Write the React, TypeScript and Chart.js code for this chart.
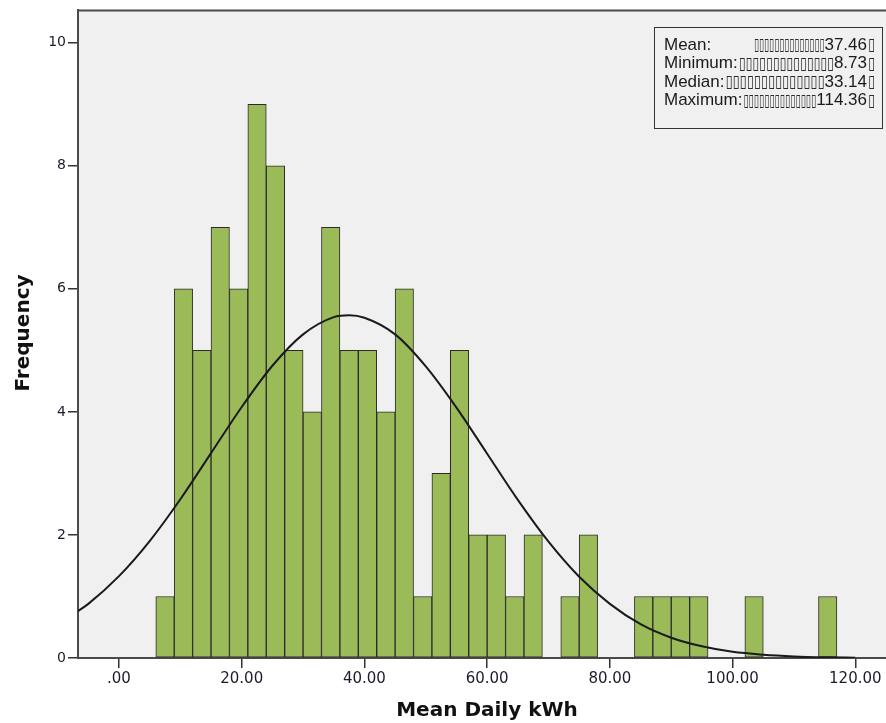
import React, { useEffect, useRef } from 'react';
import { Chart, registerables } from 'chart.js';

Chart.register(...registerables);

// Histogram bins (start of each 3-unit bin) and counts
const binWidth = 3;
const binStarts = [6, 9, 12, 15, 18, 21, 24, 27, 30, 33, 36, 39, 42, 45, 48, 51, 54, 57, 60, 63, 66, 69, 72, 75, 78, 81, 84, 87, 90, 93, 96, 99, 102, 105, 108, 111, 114];
const counts = [1, 6, 5, 7, 6, 9, 8, 5, 4, 7, 5, 5, 4, 6, 1, 3, 5, 2, 2, 1, 2, 0, 1, 2, 0, 0, 1, 1, 1, 1, 0, 0, 1, 0, 0, 0, 1];

// Normal curve overlay
const curveX = [-7, -5, 0, 5, 10, 15, 20, 25, 30, 35, 37.5, 40, 45, 50, 55, 60, 65, 70, 75, 80, 85, 90, 95, 100, 105, 110, 115, 120];
const curveY = [0.74, 0.88, 1.33, 1.9, 2.58, 3.33, 4.08, 4.75, 5.26, 5.54, 5.57, 5.53, 5.26, 4.74, 4.07, 3.32, 2.57, 1.89, 1.32, 0.88, 0.55, 0.33, 0.19, 0.1, 0.053, 0.026, 0.012, 0.005];

const xTickValues = [0, 20, 40, 60, 80, 100, 120];
const xTickLabels = ['.00', '20.00', '40.00', '60.00', '80.00', '100.00', '120.00'];
const yTickValues = [0, 2, 4, 6, 8, 10];
const yTickLabels = ['0', '2', '4', '6', '8', '10'];

const statLabels = ['Mean:', 'Minimum:', 'Median:', 'Maximum:'];
const statValues = ['37.46', '8.73', '33.14', '114.36'];

const xTitle = 'Mean Daily kWh';
const yTitle = 'Frequency';

const TOFU = '\u25AF'.repeat(14);

const decorPlugin = {
  id: 'decor',
  beforeDraw(chart: any) {
    const { ctx, chartArea: a } = chart;
    ctx.save();
    ctx.fillStyle = '#f0f0f0';
    ctx.fillRect(a.left, a.top, a.right - a.left, a.bottom - a.top);
    ctx.restore();
  },
  afterDraw(chart: any) {
    const { ctx, chartArea: a } = chart;
    ctx.save();
    // top frame line
    ctx.strokeStyle = '#4a4a4a';
    ctx.lineWidth = 2;
    ctx.beginPath();
    ctx.moveTo(a.left - 1, a.top);
    ctx.lineTo(a.right, a.top);
    ctx.stroke();

    // axis titles
    ctx.fillStyle = '#111';
    ctx.font = 'bold 20px "DejaVu Sans"';
    ctx.textAlign = 'center';
    ctx.textBaseline = 'middle';
    ctx.fillText(xTitle, 487, 711);
    ctx.save();
    ctx.translate(24, 333);
    ctx.rotate(-Math.PI / 2);
    ctx.fillText(yTitle, 0, 0);
    ctx.restore();

    // stats box
    const bx = 654.5, by = 27.5, bw = 228, bh = 101;
    ctx.strokeStyle = '#333';
    ctx.lineWidth = 1;
    ctx.strokeRect(bx, by, bw, bh);
    const textFont = '17px "Liberation Sans", "DejaVu Sans"';
    const tofuFont = '17px "DejaVu Sans"';
    ctx.font = textFont;
    ctx.textBaseline = 'middle';
    const rows = [45, 63.5, 82, 100.5];
    const valueRight = 867;
    statLabels.forEach((lab, i) => {
      const y = rows[i];
      ctx.font = textFont;
      ctx.fillStyle = '#1a1a1a';
      ctx.textAlign = 'left';
      ctx.fillText(lab, 664, y);
      const labEnd = i === 0 ? 754 : 664 + ctx.measureText(lab).width + 1;
      ctx.textAlign = 'right';
      ctx.fillText(statValues[i], valueRight, y);
      const valStart = valueRight - ctx.measureText(statValues[i]).width;
      ctx.textAlign = 'left';
      ctx.font = tofuFont;
      ctx.fillStyle = '#2a2a2a';
      ctx.fillText(TOFU, labEnd, y + 1, Math.max(4, valStart - labEnd));
      ctx.fillText('\u25AF', valueRight + 1, y + 1, 7);
    });
    ctx.restore();
  },
};

export default function App() {
  const ref = useRef<HTMLCanvasElement | null>(null);

  useEffect(() => {
    document.body.style.margin = '0';
    const canvas = ref.current;
    if (!canvas) return;

    const barData = binStarts.map((s, i) => ({ x: s + binWidth / 2, y: counts[i] }));
    const lineData = curveX.map((x, i) => ({ x, y: curveY[i] }));

    const chart = new Chart(canvas, {
      type: 'bar',
      data: {
        datasets: [
          {
            type: 'line',
            data: lineData,
            borderColor: '#1a1a1a',
            borderWidth: 2,
            pointRadius: 0,
            cubicInterpolationMode: 'monotone',
            fill: false,
            order: 0,
          } as any,
          {
            type: 'bar',
            data: barData,
            backgroundColor: '#9bbb59',
            borderColor: '#2a2a2a',
            borderWidth: 1,
            borderSkipped: false,
            barPercentage: 1,
            categoryPercentage: 1,
            order: 1,
          } as any,
        ],
      },
      options: {
        responsive: false,
        animation: false,
        devicePixelRatio: 1,
        layout: { padding: { left: 0, top: 10, right: 0, bottom: 0 } },
        plugins: { legend: { display: false }, tooltip: { enabled: false } },
        scales: {
          x: {
            type: 'linear',
            min: -6.68,
            max: 125.0,
            offset: false,
            afterBuildTicks: (s: any) => {
              s.ticks = xTickValues.map((v) => ({ value: v }));
            },
            afterFit: (s: any) => {
              s.height = 65;
            },
            ticks: {
              autoSkip: false,
              maxRotation: 0,
              padding: 2,
              color: '#1c1c2c',
              font: { family: '"DejaVu Sans"', size: 15 },
              callback: (v: any) => {
                const idx = xTickValues.indexOf(Number(v));
                return idx >= 0 ? xTickLabels[idx] : '';
              },
            },
            grid: { display: true, offset: false, drawOnChartArea: false, drawTicks: true, tickLength: 10, color: '#333', lineWidth: 1.5 },
            border: { display: true, color: '#4a4a4a', width: 2 },
          },
          y: {
            type: 'linear',
            min: 0,
            max: 10.525,
            afterBuildTicks: (s: any) => {
              s.ticks = yTickValues.map((v) => ({ value: v }));
            },
            afterFit: (s: any) => {
              s.width = 78;
            },
            ticks: {
              autoSkip: false,
              padding: 2,
              color: '#1c1c2c',
              font: { family: '"DejaVu Sans"', size: 14 },
              callback: (v: any) => {
                const idx = yTickValues.indexOf(Number(v));
                return idx >= 0 ? yTickLabels[idx] : '';
              },
            },
            grid: { display: true, offset: false, drawOnChartArea: false, drawTicks: true, tickLength: 10, color: '#333', lineWidth: 1.5 },
            border: { display: true, color: '#4a4a4a', width: 2 },
          },
        },
      } as any,
      plugins: [decorPlugin],
    });

    return () => chart.destroy();
  }, []);

  return (
    <div style={{ position: 'fixed', left: 0, top: 0, width: 886, height: 723 }}>
      <canvas ref={ref} width={886} height={723} style={{ display: 'block', width: 886, height: 723 }} />
    </div>
  );
}
